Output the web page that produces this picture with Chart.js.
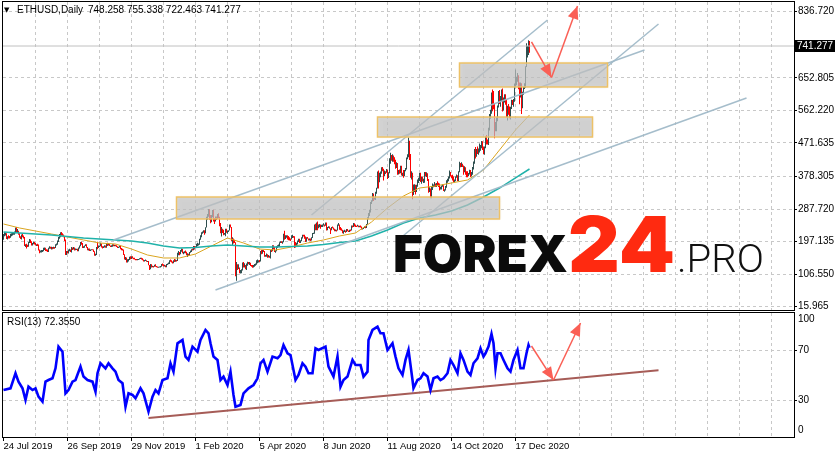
<!DOCTYPE html>
<html><head><meta charset="utf-8"><title>ETHUSD Daily</title>
<script src="https://cdn.jsdelivr.net/npm/chart.js@4.4.1/dist/chart.umd.min.js"></script>
<style>
html,body{margin:0;padding:0;background:#fff;}
body{width:838px;height:458px;position:relative;overflow:hidden;}
canvas{position:absolute;left:0;display:block;}
#c1{top:0}
#c2{top:311px}
</style></head><body>
<canvas id="c1" width="838" height="311"></canvas>
<canvas id="c2" width="838" height="147"></canvas>
<script>
// ---------------- DATA (day index 0 = 24 Jul 2019, 526 = 31 Dec 2020) ----------------
const symbolTitle = 'ETHUSD,Daily';
const lastOHLC = [748.258, 755.338, 722.463, 741.277];
const rsiTitle = 'RSI(13) 72.3550';
const firstOpen = 212;

const closes = [
// Jul 2019
216,219,219,206,211,210,209,218,
// Aug
218,218,222,222,233,226,226,219,211,206,216,211,208,187,188,185,184,194,202,196,187,191,194,190,187,188,187,173,169,169,172,
// Sep
172,178,178,174,173,169,178,181,180,180,178,181,180,188,189,197,208,212,222,218,215,211,201,166,169,166,174,174,169,180,
// Oct
177,180,175,176,176,171,180,184,194,192,181,182,186,189,181,175,177,172,174,176,174,169,161,161,180,179,184,185,191,183,182,
// Nov
183,184,182,191,188,191,186,183,184,189,186,187,185,183,180,182,184,178,175,174,161,149,152,143,147,148,153,150,155,151,
// Dec
150,149,147,146,148,148,150,151,149,146,143,144,145,141,142,132,121,132,128,128,127,133,128,127,125,126,126,128,134,132,129,
// Jan 2020
130,127,134,134,136,144,143,141,138,143,142,146,144,165,166,164,171,175,167,167,169,168,162,162,161,167,170,175,174,184,180,
// Feb
183,189,189,189,204,212,222,223,228,222,236,265,268,285,265,260,268,283,259,258,265,261,274,265,248,225,227,226,218,
// Mar
218,231,224,224,228,244,237,200,201,200,194,112,133,124,125,110,117,118,136,132,132,122,135,138,136,138,131,130,125,132,133,
// Apr
136,141,141,144,143,169,164,173,170,158,158,161,156,157,153,172,171,186,180,171,171,182,185,188,194,197,196,196,215,206,
// May
212,214,210,208,205,204,212,212,211,188,186,189,199,203,195,200,207,214,213,209,198,208,206,201,204,201,208,219,220,244,231,
// Jun
247,237,244,244,240,241,244,244,243,248,231,237,238,234,231,236,235,232,229,230,228,243,244,236,232,229,222,225,228,226,
// Jul
231,227,225,229,228,241,239,247,242,241,240,242,240,240,238,233,233,236,239,236,245,263,275,279,305,310,322,317,318,335,346,
// Aug
387,371,386,390,402,395,379,391,390,395,380,389,428,437,433,434,430,423,406,416,387,395,391,408,383,386,382,395,399,428,435,
// Sep
478,440,385,388,335,353,353,337,351,368,374,387,366,377,365,365,389,384,385,371,341,344,321,348,351,354,357,354,360,359,
// Oct
353,346,346,352,354,340,341,350,365,370,375,387,381,379,377,366,368,377,379,368,391,414,409,412,406,393,404,388,386,383,386,
// Nov
396,383,388,401,415,454,435,453,444,449,462,463,475,461,448,460,482,479,472,509,549,560,608,603,570,518,518,537,575,614,
// Dec
587,598,616,569,596,601,591,555,573,560,545,568,590,586,589,636,642,654,659,638,610,635,583,612,626,635,683,731,731,748.258,741.277
];
const highs = [
218,224,222,220,212,215,213,219,
220,221,224,225,236,238,232,227,220,212,217,218,214,210,190,191,188,196,204,203,198,193,197,196,193,190,191,189,175,172,174,
174,180,181,180,176,175,180,184,183,183,182,183,182,190,192,200,210,218,223,224,220,217,212,203,171,171,175,177,175,182,
181,182,181,178,177,177,181,186,196,197,193,184,186,190,190,182,178,178,175,176,176,175,170,163,182,197,186,186,194,192,184,
184,187,186,193,194,193,191,186,187,190,190,188,188,187,184,183,186,185,179,177,175,162,154,153,148,149,155,156,156,156,
152,152,149,149,149,149,151,152,152,151,147,146,147,145,143,143,132,135,134,130,129,133,134,129,128,127,128,129,135,136,134,
133,131,135,136,139,145,147,145,142,145,149,147,146,166,171,168,174,178,177,169,170,172,169,165,163,168,172,176,178,185,185,
184,191,194,192,205,215,223,225,229,229,237,266,274,288,287,271,271,285,286,263,267,267,274,276,266,249,238,233,230,
221,233,233,227,229,245,245,238,209,206,202,195,140,134,134,125,118,120,139,140,137,132,136,141,140,140,138,132,132,132,135,
136,145,147,145,146,171,174,174,174,171,160,164,162,160,158,174,175,187,187,182,173,184,187,189,195,198,198,198,219,227,
215,215,215,213,209,206,215,216,213,212,196,194,200,205,205,201,209,216,216,216,211,209,210,206,206,206,209,221,222,245,247,
250,253,245,246,245,244,245,248,245,250,250,238,240,239,233,238,239,236,233,231,230,245,249,245,238,234,230,228,230,228,
232,232,228,230,231,242,242,249,248,244,241,244,242,241,242,239,235,237,240,240,246,265,277,285,307,312,332,331,320,336,347,
392,395,389,392,404,405,400,395,393,399,398,390,429,444,438,440,437,432,425,418,416,396,398,408,408,389,396,396,402,431,440,
487,478,441,393,389,356,357,355,355,370,375,388,389,378,378,372,391,391,390,387,370,348,345,350,359,356,363,359,360,365,
361,359,350,353,357,354,343,352,368,372,378,395,391,382,383,378,370,378,384,382,393,419,416,418,414,409,407,404,393,393,388,
397,396,391,405,420,455,460,455,462,456,470,466,477,476,461,462,490,494,481,514,552,564,612,620,616,581,530,543,576,616,
619,602,620,623,598,607,607,594,575,580,573,572,592,591,594,637,676,656,666,660,640,640,638,614,627,638,685,749,741,757,755.338
];
const lows = [
202,212,214,204,203,206,206,208,
212,214,216,216,220,223,222,216,208,204,203,209,206,185,182,178,182,183,193,193,186,186,190,189,186,185,185,172,165,167,167,
168,170,174,171,170,168,168,177,177,175,176,177,177,179,186,188,196,205,209,214,213,209,199,160,160,164,164,170,168,167,
174,175,172,173,174,170,170,178,184,188,179,179,180,185,180,173,172,171,171,173,173,168,158,158,160,176,179,182,184,181,178,
179,181,180,180,185,186,185,182,182,183,184,184,184,182,179,179,181,176,173,172,160,147,146,139,139,142,146,148,149,150,
148,147,145,145,145,146,147,149,147,145,142,142,143,141,140,131,118,120,125,126,125,127,127,126,124,124,125,125,127,130,128,
128,126,126,132,134,135,141,139,136,137,140,141,142,143,159,159,162,169,165,162,165,165,159,154,158,159,166,168,172,173,175,
179,180,184,186,188,202,209,219,222,216,220,236,258,266,258,248,251,265,253,246,253,257,260,262,240,220,211,221,215,
216,212,222,219,224,228,236,199,187,192,193,101,88,118,121,109,108,109,117,125,125,120,118,130,134,132,129,127,124,125,127,
130,133,137,139,140,142,162,163,168,155,155,155,152,153,152,150,168,170,176,168,166,170,179,183,183,193,193,191,195,202,
204,208,203,201,200,199,203,207,208,179,181,183,189,196,193,193,198,206,211,205,196,197,205,200,200,199,200,207,218,219,229,
229,229,234,237,233,238,238,242,239,241,228,229,235,233,218,229,234,230,226,226,225,228,241,230,229,227,220,219,224,222,
224,226,224,224,226,228,236,238,239,238,238,239,237,237,236,231,231,232,235,234,235,245,259,268,278,302,309,310,314,313,330,
345,345,362,376,386,393,367,379,385,389,371,374,387,414,422,419,419,412,400,402,383,384,386,387,381,379,375,379,393,398,426,
432,424,375,370,315,327,335,328,335,350,360,366,363,358,364,360,361,379,377,366,333,335,318,318,341,348,350,349,349,353,
349,339,342,342,350,338,336,339,347,361,365,373,378,374,367,363,362,365,375,366,366,390,404,405,405,383,390,383,376,376,379,
384,377,379,383,398,414,428,433,441,439,445,450,457,452,441,439,457,467,467,466,506,539,553,560,565,485,504,504,532,570,
580,572,588,559,562,584,578,543,534,550,540,537,566,577,572,586,627,632,642,621,579,598,552,568,606,622,625,686,709,716,722.463
];

const maDays  = [0,16,32,48,64,80,96,112,128,144,160,176,192,208,224,240,256,272,288,304,320,336,352,368,384,400,416,432,448,464,480,496,512,526];
const maFast  = [246.1,235.0,226.6,218.2,209.9,201.6,193.2,190.4,176.5,159.8,151.5,151.5,162.6,184.9,207.1,193.2,176.5,173.7,182.1,193.2,201.6,212.7,221.0,251.6,290.6,324.0,346.2,351.8,360.2,368.5,396.3,452.0,507.6,549.4];
const maSlow  = [223.8,221.0,218.2,215.5,211.3,207.1,204.3,201.6,198.8,193.2,184.9,179.3,180.7,184.9,187.6,184.9,182.1,182.1,183.5,184.9,189.0,194.6,198.8,212.7,229.4,248.8,262.8,271.1,282.2,298.9,321.2,346.2,374.1,399.1];

// RSI(13)
const rsiDays = [0,7,12,15,19,22,25,29,32,35,39,42,45,49,52,55,59,62,65,69,72,77,80,84,89,92,94,97,102,105,109,112,115,119,122,125,129,132,137,140,145,149,152,155,159,164,167,170,174,179,182,185,189,194,197,202,205,207,210,214,217,220,224,227,230,232,237,240,245,250,254,257,260,264,269,274,277,280,284,287,292,295,299,302,305,309,312,315,322,325,330,334,337,340,344,349,352,357,360,364,365,369,374,377,380,384,389,392,395,399,402,405,409,410,414,417,420,424,427,430,434,437,440,444,447,450,454,457,460,464,467,470,474,477,480,482,485,488,490,492,494,497,500,504,507,510,514,517,520,523,525,526];
const rsiValues = [38.1,39.5,51.7,44.9,39.5,30.0,40.8,38.1,39.5,32.7,28.7,44.9,46.2,47.6,55.7,73.3,69.2,35.4,38.1,44.9,46.2,57.1,49.0,46.2,44.9,36.8,51.7,59.8,55.7,59.8,55.7,53.0,46.2,43.6,24.6,35.4,34.1,31.4,39.5,35.4,20.6,32.7,38.1,35.4,46.2,47.6,59.8,53.0,76.0,78.7,65.2,62.5,73.3,69.2,78.7,86.8,84.1,76.0,65.2,62.5,46.2,49.0,42.2,53.0,34.1,24.6,26.0,35.4,39.5,42.2,47.6,59.8,62.5,53.0,65.2,63.8,66.5,74.6,67.9,66.5,46.2,50.3,59.8,57.1,51.7,51.7,71.9,70.6,73.3,57.1,49.0,65.2,40.8,46.2,49.0,62.5,58.4,58.4,49.0,53.0,78.7,86.8,89.5,84.1,84.1,70.6,76.0,65.2,55.7,50.3,62.5,70.6,46.2,39.5,46.2,47.6,51.7,49.0,38.1,47.6,49.0,46.2,47.6,51.7,62.5,58.4,51.7,67.9,62.5,53.0,50.3,59.8,63.8,71.9,65.2,67.9,73.3,83.6,76.0,55.7,67.9,67.9,62.5,55.7,53.0,62.5,70.6,55.7,55.7,67.9,74.6,72.4];

// drawn objects (data coordinates: day index, price)
const trendStartDay   = [110, 212, 308, 397];
const trendStartPrice = [201.6, 62.4, 271.1, 207.1];
const trendEndDay     = [641, 743, 544, 655];
const trendEndPrice   = [730.2, 596.7, 813.7, 802.6];
const zoneStartDay = [173, 374, 456];
const zoneEndDay   = [496, 589, 604];
const zoneTop      = [321.2, 543.8, 694.0];
const zoneBottom   = [260.0, 488.1, 627.3];
const pathDays   = [528, 548, 574];
const pathPrices = [752.5, 654.0, 852.6];
const rsiPathDays   = [528, 550, 577];
const rsiPathValues = [73.8, 46.2, 92.5];
const rsiTrendDays   = [145, 655];
const rsiTrendValues = [15.4, 54.1];

// axes
const priceTicks = [15.965,106.55,197.135,287.72,378.305,471.635,562.22,652.805,836.72];
const rsiLevels = [0,30,70,100];
const dateLabels = ['24 Jul 2019','26 Sep 2019','29 Nov 2019','1 Feb 2020','5 Apr 2020','8 Jun 2020','11 Aug 2020','14 Oct 2020','17 Dec 2020'];
const dateLabelDays = [0,64,128,192,256,320,384,448,512];
const brandParts = ['FOREX','24','.PRO'];

// ---------------- RENDER ----------------
Chart.defaults.font.family = "'Liberation Sans', Arial, sans-serif";
Chart.defaults.font.size = 10;
Chart.defaults.color = '#000';

const UP = '#2F4F4F', DOWN = '#FF0000', GRID = '#C8C8C8';
const X_MIN = -0.5, X_MAX = 790.5;
const PRICE_MIN = 6.78, PRICE_MAX = 863.76;
const RSI_MIN = 0, RSI_MAX = 100.57;
const gridDays = Array.from({length: 25}, (_, k) => k * 32);

const opens = closes.map((c, i) => i === 0 ? firstOpen : closes[i - 1]);
const candleData = closes.map((c, i) => ({x: i, y: [Math.min(lows[i], opens[i], c), Math.max(highs[i], opens[i], c)]}));
const candleColors = closes.map((c, i) => c >= opens[i] ? UP : DOWN);
const pts = (days, vals) => days.map((d, i) => ({x: d, y: vals[i]}));
const TRANSP = 'rgba(0,0,0,0)';

function noPad(s){ s.paddingTop = 0; s.paddingBottom = 0; s.paddingLeft = 0; s.paddingRight = 0; }

function drawArrowHeads(chart){
  const ctx = chart.ctx;
  chart.data.datasets.forEach((ds, i) => {
    if (!ds.arrow) return;
    const p = chart.getDatasetMeta(i).data;
    const a = p[p.length - 2], b = p[p.length - 1];
    const ang = Math.atan2(b.y - a.y, b.x - a.x), L = 13, W = 5.5;
    const bx = b.x - L * Math.cos(ang), by = b.y - L * Math.sin(ang);
    ctx.save();
    ctx.fillStyle = ds.borderColor;
    ctx.beginPath();
    ctx.moveTo(b.x, b.y);
    ctx.lineTo(bx + W * Math.sin(ang), by - W * Math.cos(ang));
    ctx.lineTo(bx - W * Math.sin(ang), by + W * Math.cos(ang));
    ctx.closePath(); ctx.fill(); ctx.restore();
  });
}
function drawFrame(chart){
  const {ctx, chartArea: a} = chart;
  ctx.save(); ctx.strokeStyle = '#000'; ctx.lineWidth = 1;
  ctx.strokeRect(a.left - 0.5, a.top - 0.5, a.right - a.left + 1, a.bottom - a.top + 1);
  ctx.restore();
}
function fitText(ctx, text, x, y, w){
  const m = ctx.measureText(text).width;
  ctx.save(); ctx.translate(x, y); ctx.scale(w / m, 1); ctx.fillText(text, 0, 0); ctx.restore();
}

const mainPlugin = {
  id: 'mainPlugin',
  afterDatasetDraw(chart, args){
    if (!chart.data.datasets[args.index].zonesAfter) return;
    const {ctx, scales: {x, y}} = chart;
    ctx.save();
    for (let i = 0; i < zoneStartDay.length; i++){
      const x0 = x.getPixelForValue(zoneStartDay[i]), x1 = x.getPixelForValue(zoneEndDay[i]);
      const y0 = y.getPixelForValue(zoneTop[i]), y1 = y.getPixelForValue(zoneBottom[i]);
      ctx.shadowColor = 'rgba(0,0,0,0.18)'; ctx.shadowBlur = 3;
      ctx.fillStyle = 'rgba(200,200,200,0.68)';
      ctx.fillRect(x0, y0, x1 - x0, y1 - y0);
      ctx.shadowBlur = 0;
      ctx.strokeStyle = 'rgba(238,192,96,0.95)'; ctx.lineWidth = 1.5;
      ctx.strokeRect(x0, y0, x1 - x0, y1 - y0);
    }
    ctx.restore();
  },
  afterDatasetsDraw(chart){ drawArrowHeads(chart); },
  afterDraw(chart){
    const {ctx, scales: {y}, chartArea: a} = chart;
    drawFrame(chart);
    ctx.save();
    // header
    ctx.fillStyle = '#000'; ctx.textBaseline = 'middle';
    ctx.font = "7px 'DejaVu Sans'"; ctx.fillText('\u25BC', 4, 10);
    ctx.font = "10px 'Liberation Sans'";
    ctx.fillText(symbolTitle, 17, 10);
    ctx.fillText(lastOHLC.map(v => v.toFixed(3)).join(' '), 88, 10);
    // last price label
    const py = Math.round(y.getPixelForValue(lastOHLC[3]));
    ctx.fillStyle = '#000'; ctx.fillRect(a.right + 1, py - 6, 40, 12);
    ctx.fillStyle = '#fff'; ctx.fillText(lastOHLC[3].toFixed(3), a.right + 3, py + 0.5);
    // watermark
    ctx.textBaseline = 'alphabetic';
    ctx.fillStyle = '#0B0B0B'; ctx.font = "900 51px Inter, Lato, sans-serif";
    fitText(ctx, brandParts[0], 393, 272, 175);
    ctx.fillStyle = '#FF2A10'; ctx.font = "900 77px Inter, Lato, sans-serif";
    fitText(ctx, brandParts[1], 568, 272, 107);
    ctx.fillStyle = '#111'; ctx.font = "300 39px Roboto, Lato, sans-serif";
    fitText(ctx, brandParts[2], 677, 272, 87);
    ctx.restore();
  }
};

const lineDs = (data, color, width, order, extra) => Object.assign({type: 'line', data, borderColor: color, borderWidth: width, pointRadius: 0, fill: false, order}, extra || {});

const mainDatasets = [
  {type: 'bar', data: candleData, backgroundColor: candleColors, barThickness: 1, grouped: false, inflateAmount: 0, borderWidth: 0, order: 10},
  lineDs([{x: X_MIN, y: lastOHLC[3]}, {x: X_MAX, y: lastOHLC[3]}], '#C0C0C0', 1, 9),
  lineDs(pts(maDays, maSlow), '#20B2AA', 1.5, 8),
  lineDs(pts(maDays, maFast), '#DAA520', 1, 8),
];
for (let i = 0; i < trendStartDay.length; i++){
  mainDatasets.push(lineDs([{x: trendStartDay[i], y: trendStartPrice[i]}, {x: trendEndDay[i], y: trendEndPrice[i]}], 'rgba(160,185,200,0.95)', 1.5, 4));
}
mainDatasets.push(lineDs([], TRANSP, 0, 3, {zonesAfter: true}));
for (let i = 0; i < pathDays.length - 1; i++){
  mainDatasets.push(lineDs([{x: pathDays[i], y: pathPrices[i]}, {x: pathDays[i + 1], y: pathPrices[i + 1]}], '#FA5F55', 1.5, 1, {arrow: true}));
}

const xGridCommon = {
  type: 'linear', min: X_MIN, max: X_MAX, offset: false,
  border: {display: false, dash: [3, 3]},
  afterBuildTicks: s => { s.ticks = gridDays.map(v => ({value: v})); },
};

new Chart(document.getElementById('c1'), {
  type: 'bar',
  data: {datasets: mainDatasets},
  options: {
    responsive: false, animation: false, devicePixelRatio: 1,
    layout: {padding: {left: 3, top: 2, right: 0, bottom: 1}, autoPadding: false},
    plugins: {legend: {display: false}, tooltip: {enabled: false}},
    scales: {
      x: Object.assign({}, xGridCommon, {
        grid: {color: c => (c.tick && c.tick.value === 0) ? TRANSP : GRID, drawTicks: false, offset: false},
        ticks: {display: false},
        afterFit: s => { s.height = 0; noPad(s); }
      }),
      y: {
        type: 'linear', position: 'right', min: PRICE_MIN, max: PRICE_MAX,
        border: {display: false, dash: [3, 3]},
        grid: {color: GRID, tickColor: '#000', tickLength: 3, tickBorderDash: [], tickWidth: 1},
        ticks: {padding: 1, font: {size: 10}, color: '#000', callback: v => Number(v).toFixed(3)},
        afterBuildTicks: s => { s.ticks = priceTicks.map(v => ({value: v})); },
        afterFit: s => { s.width = 44; noPad(s); }
      }
    }
  },
  plugins: [mainPlugin]
});

// ---------------- RSI panel ----------------
const rsiPlugin = {
  id: 'rsiPlugin',
  afterDatasetsDraw(chart){ drawArrowHeads(chart); },
  afterDraw(chart){
    const {ctx, scales: {y}, chartArea: a} = chart;
    drawFrame(chart);
    ctx.save();
    ctx.fillStyle = '#000'; ctx.textBaseline = 'middle'; ctx.font = "10px 'Liberation Sans'";
    ctx.fillText(rsiTitle, 7, 11);
    rsiLevels.forEach(v => {
      let py = y.getPixelForValue(v);
      py = Math.min(Math.max(py, a.top + 6.5), a.bottom - 6.5);
      ctx.fillText(String(v), a.right + 4, py);
    });
    ctx.restore();
  }
};

const rsiDatasets = [
  lineDs(pts(rsiTrendDays, rsiTrendValues), '#A65C57', 2, 6),
  lineDs(pts(rsiDays, rsiValues), '#0000FF', 2.6, 5),
];
for (let i = 0; i < rsiPathDays.length - 1; i++){
  rsiDatasets.push(lineDs([{x: rsiPathDays[i], y: rsiPathValues[i]}, {x: rsiPathDays[i + 1], y: rsiPathValues[i + 1]}], '#FA5F55', 1.5, 1, {arrow: true}));
}

new Chart(document.getElementById('c2'), {
  type: 'line',
  data: {datasets: rsiDatasets},
  options: {
    responsive: false, animation: false, devicePixelRatio: 1,
    layout: {padding: {left: 3, top: 2, right: 0, bottom: 0}, autoPadding: false},
    plugins: {legend: {display: false}, tooltip: {enabled: false}},
    scales: {
      x: Object.assign({}, xGridCommon, {
        grid: {
          color: c => (c.tick && c.tick.value === 0) ? TRANSP : GRID,
          tickColor: c => (c.tick && dateLabelDays.includes(c.tick.value)) ? '#000' : TRANSP,
          tickLength: 4, tickBorderDash: [], drawTicks: true, offset: false
        },
        ticks: {
          autoSkip: false, maxRotation: 0, minRotation: 0, align: 'start', padding: 0,
          font: {size: 9.5}, color: '#000',
          callback: v => { const k = dateLabelDays.indexOf(v); return k >= 0 ? dateLabels[k] : ''; }
        },
        afterFit: s => { s.height = 21; noPad(s); }
      }),
      y: {
        type: 'linear', position: 'right', min: RSI_MIN, max: RSI_MAX,
        border: {display: false, dash: [3, 3]},
        grid: {color: GRID, tickColor: '#000', tickLength: 3, tickBorderDash: []},
        ticks: {display: false},
        afterBuildTicks: s => { s.ticks = [30, 70].map(v => ({value: v})); },
        afterFit: s => { s.width = 44; noPad(s); }
      }
    }
  },
  plugins: [rsiPlugin]
});
</script></body></html>
